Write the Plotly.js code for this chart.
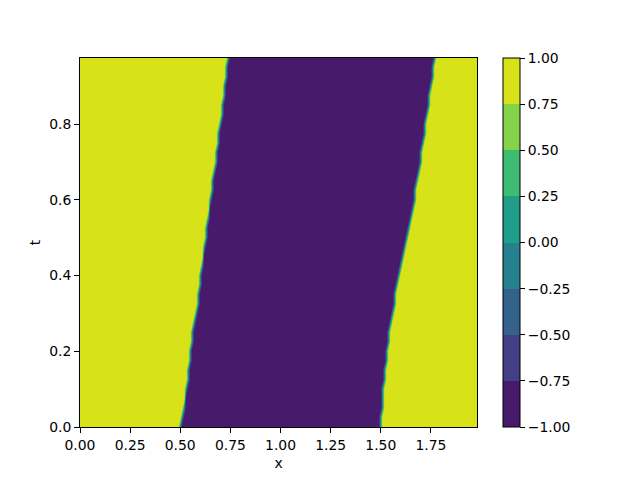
<!DOCTYPE html>
<html>
<head>
<meta charset="utf-8">
<script src="https://cdn.plot.ly/plotly-3.0.1.min.js"></script>
<style>html,body{margin:0;padding:0;background:#fff;}#chart{width:640px;height:480px;}</style>
</head>
<body>
<div id="chart"></div>
<script>
// Rows in t and the x positions where the purple (-1) region starts / ends
const tRows = [0.000, 0.025, 0.050, 0.075, 0.100, 0.125, 0.150, 0.175, 0.200, 0.225,
               0.250, 0.275, 0.300, 0.325, 0.350, 0.375, 0.400, 0.425, 0.450, 0.475,
               0.500, 0.525, 0.550, 0.575, 0.600, 0.625, 0.650, 0.675, 0.700, 0.725,
               0.750, 0.775, 0.800, 0.825, 0.850, 0.875, 0.900, 0.925, 0.950, 0.975];
const leftEdge = [0.503, 0.508, 0.516, 0.525, 0.532, 0.537, 0.543, 0.549, 0.554, 0.559,
                  0.565, 0.572, 0.579, 0.586, 0.591, 0.596, 0.602, 0.609, 0.615, 0.620,
                  0.627, 0.633, 0.638, 0.645, 0.651, 0.656, 0.662, 0.668, 0.676, 0.683,
                  0.689, 0.694, 0.700, 0.706, 0.712, 0.718, 0.723, 0.729, 0.734, 0.740];
const rightEdge = [1.500, 1.503, 1.506, 1.510, 1.514, 1.518, 1.523, 1.528, 1.533, 1.539,
                   1.545, 1.551, 1.558, 1.566, 1.574, 1.583, 1.592, 1.601, 1.611, 1.621,
                   1.630, 1.639, 1.648, 1.657, 1.665, 1.673, 1.681, 1.688, 1.695, 1.702,
                   1.709, 1.716, 1.722, 1.729, 1.736, 1.743, 1.749, 1.756, 1.764, 1.771];
const insideValue = -1.0;
const outsideValue = 1.0;
const edgeValue = 0.0;
const xMin = 0.0, xMax = 1.98, xStep = 0.01;

const levels = [-1.00, -0.75, -0.50, -0.25, 0.00, 0.25, 0.50, 0.75, 1.00];
const bandColors = ['#481a6c', '#433e85', '#33638d', '#26818e', '#1f9e89', '#3fbc73', '#84d44b', '#d8e219'];

const xGrid = [];
for (let i = 0; i * xStep <= xMax - xMin + 1e-9; i++) xGrid.push(+(xMin + i * xStep).toFixed(4));

const zGrid = tRows.map((t, r) => xGrid.map(x => {
  if (Math.abs(x - leftEdge[r]) < xStep / 2 || Math.abs(x - rightEdge[r]) < xStep / 2) return edgeValue;
  return (x >= leftEdge[r] && x < rightEdge[r]) ? insideValue : outsideValue;
}));

const colorscale = [];
bandColors.forEach((c, i) => {
  colorscale.push([i / bandColors.length, c]);
  colorscale.push([(i + 1) / bandColors.length, c]);
});

const FONT = 'DejaVu Sans, sans-serif';
const FS = 13.9;

const trace = {
  type: 'contour',
  x: xGrid,
  y: tRows,
  z: zGrid,
  zmin: levels[0],
  zmax: levels[levels.length - 1],
  zauto: false,
  colorscale: colorscale,
  contours: {start: levels[0], end: levels[levels.length - 1], size: 0.25, coloring: 'fill', showlines: false},
  line: {width: 0, smoothing: 0},
  hoverinfo: 'skip',
  colorbar: {
    x: 1.065, xanchor: 'left', xpad: 0,
    y: 0.5, yanchor: 'middle', ypad: 0,
    len: 1, lenmode: 'fraction',
    thickness: 17, thicknessmode: 'pixels',
    outlinewidth: 1, outlinecolor: '#000',
    ticks: 'outside', ticklen: 5, tickwidth: 1, tickcolor: '#000',
    tickvals: levels, tickformat: '.2f',
    tickfont: {family: FONT, size: FS, color: '#000'}
  }
};

const axisCommon = {
  showline: true, linecolor: '#000', linewidth: 1, mirror: true,
  ticks: 'outside', ticklen: 5, tickwidth: 1, tickcolor: '#000',
  showgrid: false, zeroline: false,
  tickfont: {family: FONT, size: FS, color: '#000'}
};

const layout = {
  width: 640, height: 480,
  margin: {l: 80, r: 163, t: 58, b: 53},
  paper_bgcolor: '#fff', plot_bgcolor: '#fff',
  font: {family: FONT, size: FS, color: '#000'},
  showlegend: false,
  xaxis: Object.assign({}, axisCommon, {
    range: [xMin, xMax], dtick: 0.25, tick0: 0, tickformat: '.2f',
    title: {text: 'x', font: {family: FONT, size: FS, color: '#000'}, standoff: 6}
  }),
  yaxis: Object.assign({}, axisCommon, {
    range: [0, 0.975], dtick: 0.2, tick0: 0, tickformat: '.1f',
    title: {text: 't', font: {family: FONT, size: FS, color: '#000'}, standoff: 5}
  })
};

Plotly.newPlot('chart', [trace], layout, {displayModeBar: false, staticPlot: true});
</script>
</body>
</html>
